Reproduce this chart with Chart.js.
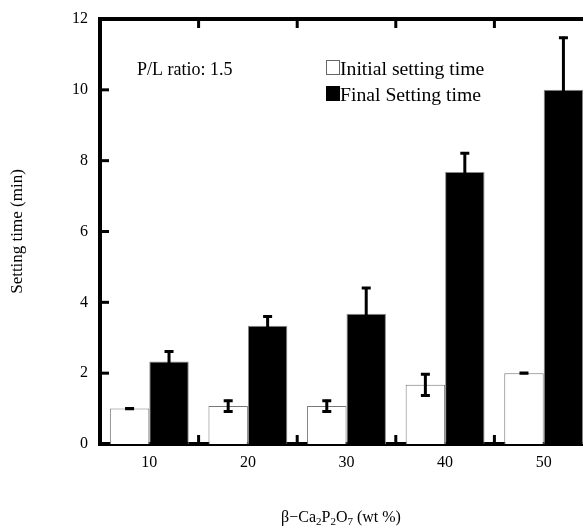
<!DOCTYPE html>
<html>
<head>
<meta charset="utf-8">
<script src="https://cdn.jsdelivr.net/npm/chart.js@4"></script>
<style>
  html, body { margin: 0; padding: 0; background: #fff; overflow: hidden; width: 583px; height: 526px; }
  #wrap { position: absolute; left: 0; top: 0; width: 620px; height: 526px; }
</style>
</head>
<body>
<div id="wrap"><canvas id="chart" width="620" height="526"></canvas></div>
<script>
// data
const categories = ['10', '20', '30', '40', '50'];
const initialTime = [1.0, 1.07, 1.07, 1.67, 2.0];
const initialErr = [0.03, 0.18, 0.18, 0.33, 0.03];
const finalTime = [2.33, 3.34, 3.68, 7.68, 10.0];
const finalErr = [0.31, 0.29, 0.75, 0.56, 1.5];
const yTicks = [0, 2, 4, 6, 8, 10, 12];

const serif = '"Liberation Serif", "Times New Roman", serif';

// error bars for both series
const errorBars = {
    id: 'errorBars',
    afterDatasetsDraw(chart) {
        const ctx = chart.ctx;
        const y = chart.scales.y;
        const errs = [initialErr, finalErr];
        ctx.save();
        ctx.strokeStyle = '#000';
        chart.data.datasets.forEach((ds, i) => {
            const meta = chart.getDatasetMeta(i);
            meta.data.forEach((bar, j) => {
                const v = ds.data[j];
                const e = errs[i][j];
                const top = y.getPixelForValue(v + e);
                const bot = y.getPixelForValue(v - e);
                ctx.lineWidth = 3;
                ctx.beginPath();
                ctx.moveTo(bar.x, top);
                ctx.lineTo(bar.x, bot);
                ctx.stroke();
                ctx.beginPath();
                ctx.moveTo(bar.x - 4.5, top + 1);
                ctx.lineTo(bar.x + 4.5, top + 1);
                ctx.moveTo(bar.x - 4.5, bot - 1);
                ctx.lineTo(bar.x + 4.5, bot - 1);
                ctx.stroke();
            });
        });
        ctx.restore();
    }
};

// frame top line, inward ticks, legend, notes, x title with subscripts
const decorations = {
    id: 'decorations',
    afterDraw(chart) {
        const ctx = chart.ctx;
        const a = chart.chartArea;
        const x = chart.scales.x;
        const y = chart.scales.y;
        ctx.save();
        ctx.strokeStyle = '#000';
        ctx.fillStyle = '#000';

        // top border
        ctx.lineWidth = 4;
        ctx.beginPath();
        ctx.moveTo(a.left - 2, a.top);
        ctx.lineTo(a.right + 2, a.top);
        ctx.stroke();

        // y ticks, pointing inward
        ctx.lineWidth = 3;
        yTicks.forEach(t => {
            if (t === 0 || t === 12) return;
            const py = y.getPixelForValue(t);
            ctx.beginPath();
            ctx.moveTo(a.left, py);
            ctx.lineTo(a.left + 9, py);
            ctx.stroke();
        });

        // x ticks at group boundaries, bottom and top, inward
        for (let i = 1; i < categories.length; i++) {
            const px = (x.getPixelForValue(i - 1) + x.getPixelForValue(i)) / 2;
            ctx.beginPath();
            ctx.moveTo(px, a.bottom);
            ctx.lineTo(px, a.bottom - 9);
            ctx.moveTo(px, a.top);
            ctx.lineTo(px, a.top + 9);
            ctx.stroke();
        }

        // note
        ctx.font = '18px ' + serif;
        ctx.textBaseline = 'alphabetic';
        ctx.textAlign = 'left';
        ctx.fillText('P/L ratio: 1.5', 137, 75);

        // legend
        ctx.font = '19.7px ' + serif;
        ctx.lineWidth = 1;
        ctx.strokeStyle = '#666';
        ctx.strokeRect(326.5, 60.5, 13, 14);
        ctx.fillStyle = '#000';
        ctx.fillText('Initial setting time', 340, 75);
        ctx.fillRect(326, 86, 14, 15);
        ctx.fillText('Final Setting time', 340, 101);

        // x axis title with subscripts
        const parts = [['\u03b2\u2212Ca', false], ['2', true], ['P', false], ['2', true], ['O', false], ['7', true], [' (wt %)', false]];
        const big = '16px ' + serif;
        const small = '11px ' + serif;
        let w = 0;
        parts.forEach(p => { ctx.font = p[1] ? small : big; w += ctx.measureText(p[0]).width; });
        let cx = 341 - w / 2;
        const base = 522;
        parts.forEach(p => {
            ctx.font = p[1] ? small : big;
            ctx.fillText(p[0], cx, p[1] ? base + 3 : base);
            cx += ctx.measureText(p[0]).width;
        });
        ctx.restore();
    }
};

new Chart(document.getElementById('chart'), {
    type: 'bar',
    data: {
        labels: categories,
        datasets: [
            {
                label: 'Initial setting time',
                data: initialTime,
                backgroundColor: '#fff',
                borderColor: '#777',
                borderWidth: 1,
                categoryPercentage: 0.8,
                barPercentage: 1.0
            },
            {
                label: 'Final Setting time',
                data: finalTime,
                backgroundColor: '#000',
                borderColor: '#888',
                borderWidth: 1,
                categoryPercentage: 0.8,
                barPercentage: 1.0
            }
        ]
    },
    options: {
        responsive: false,
        animation: false,
        layout: { padding: { left: 0, top: 19, right: 27, bottom: 0 } },
        plugins: {
            legend: { display: false },
            tooltip: { enabled: false }
        },
        scales: {
            x: {
                grid: { display: false },
                border: { display: true, width: 4, color: '#000' },
                ticks: { color: '#000', font: { family: serif, size: 16 }, padding: 1, maxRotation: 0 },
                afterFit(scale) { scale.height = 82; }
            },
            y: {
                min: 0,
                max: 12,
                grid: { display: false },
                border: { display: true, width: 4, color: '#000' },
                ticks: { color: '#000', font: { family: serif, size: 16 }, stepSize: 2, padding: 4 },
                title: {
                    display: true,
                    text: 'Setting time (min)',
                    color: '#000',
                    font: { family: serif, size: 17 },
                    padding: { top: 7, bottom: 0 }
                },
                afterFit(scale) { scale.width = 100; }
            }
        }
    },
    plugins: [errorBars, decorations]
});
</script>
</body>
</html>
